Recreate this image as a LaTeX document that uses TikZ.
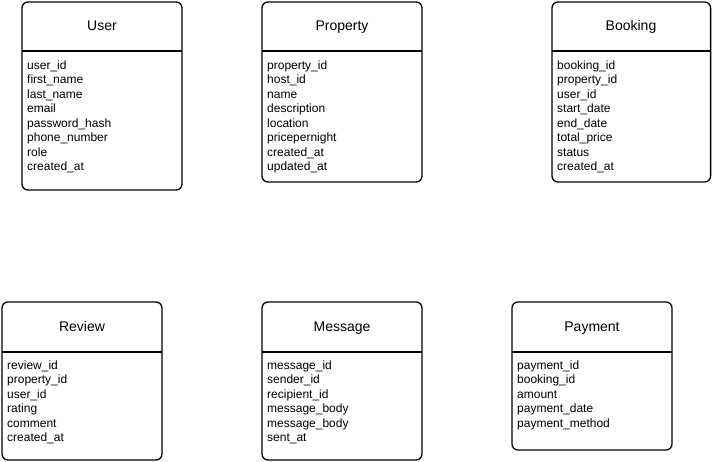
\documentclass[tikz,border=0pt]{standalone}
\usepackage{fontspec}
\setmainfont{Liberation Sans}

\tikzset{
	entbox/.style={draw, line width=1.3pt, rounded corners=6pt},
	entline/.style={line width=1.3pt},
	enttitle/.style={inner sep=0pt, text height=10pt, text depth=0pt, font=\fontsize{14}{16}\selectfont},
	entfield/.style={anchor=west, inner sep=0pt, text height=8.6pt, text depth=0pt, font=\fontsize{12}{14}\selectfont}
}

\begin{document}
\begin{tikzpicture}[x=1pt,y=-1pt]
	\useasboundingbox (0,0) rectangle (712,462);
	% User
	\draw[entbox] (22,2) rectangle (182,190);
	\draw[entline] (22,51) -- (182,51);
	\node[enttitle] (user) at (102,26) {User};
	\foreach \f [count=\i from 0] in {user\_id,first\_name,last\_name,email,password\_hash,phone\_number,role,created\_at}
		\node[entfield] (user-\i) at (27,{65+14.5*\i}) {\f};
	% Property
	\draw[entbox] (262,2) rectangle (422,182);
	\draw[entline] (262,51) -- (422,51);
	\node[enttitle] (property) at (342,26) {Property};
	\foreach \f [count=\i from 0] in {property\_id,host\_id,name,description,location,pricepernight,created\_at,updated\_at}
		\node[entfield] (property-\i) at (267,{65+14.5*\i}) {\f};
	% Booking
	\draw[entbox] (552,2) rectangle (710.6,182);
	\draw[entline] (552,51) -- (710.6,51);
	\node[enttitle] (booking) at (631,26) {Booking};
	\foreach \f [count=\i from 0] in {booking\_id,property\_id,user\_id,start\_date,end\_date,total\_price,status,created\_at}
		\node[entfield] (booking-\i) at (557,{65+14.5*\i}) {\f};
	% Review
	\draw[entbox] (2,302) rectangle (162,460);
	\draw[entline] (2,352) -- (162,352);
	\node[enttitle] (review) at (82,326) {Review};
	\foreach \f [count=\i from 0] in {review\_id,property\_id,user\_id,rating,comment,created\_at}
		\node[entfield] (review-\i) at (7,{365+14.5*\i}) {\f};
	% Message
	\draw[entbox] (262,302) rectangle (422,460);
	\draw[entline] (262,352) -- (422,352);
	\node[enttitle] (message) at (342,326) {Message};
	\foreach \f [count=\i from 0] in {message\_id,sender\_id,recipient\_id,message\_body,message\_body,sent\_at}
		\node[entfield] (message-\i) at (267,{365+14.5*\i}) {\f};
	% Payment
	\draw[entbox] (512,302) rectangle (672,450);
	\draw[entline] (512,352) -- (672,352);
	\node[enttitle] (payment) at (592,326) {Payment};
	\foreach \f [count=\i from 0] in {payment\_id,booking\_id,amount,payment\_date,payment\_method}
		\node[entfield] (payment-\i) at (517,{365+14.5*\i}) {\f};
\end{tikzpicture}
\end{document}
